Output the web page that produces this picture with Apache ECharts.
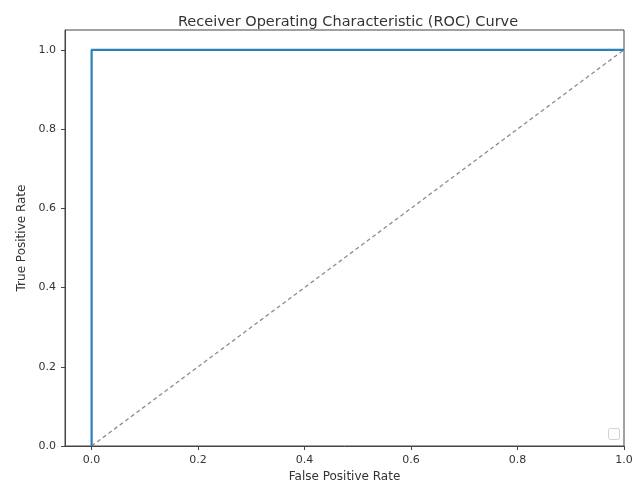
<!DOCTYPE html>
<html><head><meta charset="utf-8">
<script src="https://cdn.jsdelivr.net/npm/echarts@6/dist/echarts.min.js"></script>
<style>html,body{margin:0;padding:0;background:#fff}#c{width:642px;height:485px}</style>
</head><body><div id="c"></div>
<script>
const fpr = [0.0, 0.0, 1.0];
const tpr = [0.0, 1.0, 1.0];
const chanceX = [0.0, 1.0];
const chanceY = [0.0, 1.0];
const xTicks = [0.0, 0.2, 0.4, 0.6, 0.8, 1.0];
const yTicks = [0.0, 0.2, 0.4, 0.6, 0.8, 1.0];
const titleText = 'Receiver Operating Characteristic (ROC) Curve';
const xName = 'False Positive Rate';
const yName = 'True Positive Rate';

const font = 'DejaVu Sans';
const chart = echarts.init(document.getElementById('c'), null, {renderer: 'canvas'});
const fmt = v => Number(v).toFixed(1);
chart.setOption({
  animation: false,
  backgroundColor: '#fff',
  title: {text: titleText, left: 343, top: 10, textAlign: 'center',
    textStyle: {fontFamily: font, fontSize: 14.5, fontWeight: 'normal', color: '#333'}},
  grid: {left: 65, right: 18, top: 30, bottom: 39, show: true, borderColor: '#444', borderWidth: 1,
    backgroundColor: 'transparent', outerBoundsMode: 'none', containLabel: false},
  xAxis: {type: 'value', min: -0.05, max: 1.0,
    name: xName, nameLocation: 'middle', nameGap: 24,
    nameTextStyle: {fontFamily: font, fontSize: 12, color: '#333'},
    splitLine: {show: false},
    axisLine: {show: true, onZero: false, lineStyle: {color: '#444'}},
    axisTick: {show: true, length: 4, lineStyle: {color: '#444'}, customValues: xTicks},
    axisLabel: {fontFamily: font, fontSize: 11, color: '#333', margin: 9, customValues: xTicks, formatter: fmt}},
  yAxis: {type: 'value', min: 0.0, max: 1.05,
    name: yName, nameLocation: 'middle', nameGap: 36,
    nameTextStyle: {fontFamily: font, fontSize: 12, color: '#333'},
    splitLine: {show: false},
    axisLine: {show: true, onZero: false, lineStyle: {color: '#444'}},
    axisTick: {show: true, length: 4, lineStyle: {color: '#444'}, customValues: yTicks},
    axisLabel: {fontFamily: font, fontSize: 11, color: '#333', margin: 9, customValues: yTicks, formatter: fmt}},
  series: [
    {type: 'line', data: chanceX.map((x, i) => [x, chanceY[i]]), symbol: 'none',
     lineStyle: {color: '#8c8c8c', width: 1.3, type: [4, 3]}, z: 2},
    {type: 'line', data: fpr.map((x, i) => [x, tpr[i]]), symbol: 'none',
     lineStyle: {color: '#2e7fb8', width: 2.2}, z: 3}
  ],
  graphic: [{type: 'rect', right: 22, bottom: 45, shape: {width: 11, height: 11, r: 2},
    style: {fill: '#fff', stroke: '#d0d0d0', lineWidth: 1}}]
});
</script></body></html>
